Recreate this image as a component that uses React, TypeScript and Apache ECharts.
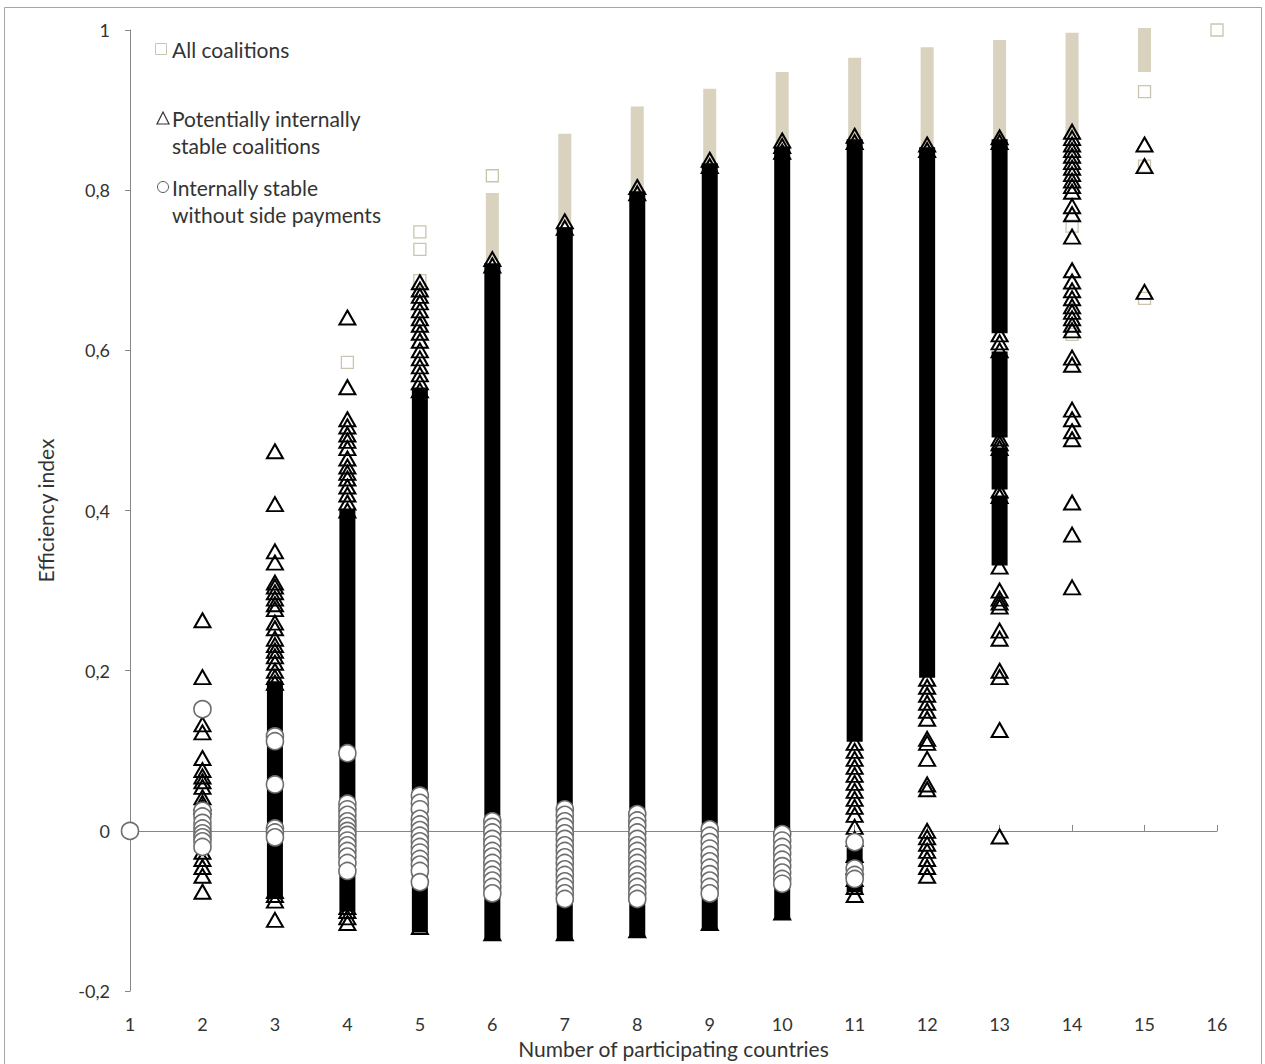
import React, { useEffect, useRef } from "react";
import * as echarts from "echarts";

// Number of participating countries (x categories)
const countries = [1, 2, 3, 4, 5, 6, 7, 8, 9, 10, 11, 12, 13, 14, 15, 16];
const yTicks = [-0.2, 0, 0.2, 0.4, 0.6, 0.8, 1];

// "All coalitions": isolated squares per country (index matches countries)
const squareValues: number[][] = [
  [],
  [],
  [],
  [0.585],
  [0.748, 0.726, 0.687],
  [0.818],
  [],
  [],
  [],
  [],
  [],
  [],
  [],
  [0.755, 0.62],
  [0.923, 0.83, 0.665],
  [1.0],
];
// "All coalitions": dense ranges of squares [country, low, high]
const squareBands: number[][] = [
  [6, 0.72, 0.789],
  [7, 0.765, 0.863],
  [8, 0.805, 0.897],
  [9, 0.84, 0.919],
  [10, 0.865, 0.94],
  [11, 0.87, 0.958],
  [12, 0.86, 0.971],
  [13, 0.868, 0.98],
  [14, 0.875, 0.989],
  [15, 0.955, 0.995],
];

// "Potentially internally stable coalitions": isolated triangles per country
const triangleValues: number[][] = [
  [],
  [0.263, 0.192, 0.133, 0.123, 0.091, 0.076, 0.068, 0.062, 0.055, 0.042, 0.035, 0.03, -0.026, -0.035, -0.045, -0.056, -0.076],
  [0.474, 0.408, 0.349, 0.335, 0.31, 0.305, 0.298, 0.29, 0.283, 0.277, 0.26, 0.253, 0.24, 0.232, 0.225, 0.218, 0.21, 0.2, 0.192, 0.185, -0.075, -0.08, -0.087, -0.111],
  [0.641, 0.554, 0.514, 0.505, 0.495, 0.487, 0.478, 0.465, 0.455, 0.447, 0.44, 0.43, 0.42, 0.41, 0.4, -0.095, -0.1, -0.108, -0.115],
  [0.685, 0.676, 0.668, 0.66, 0.65, 0.64, 0.632, 0.622, 0.612, 0.6, 0.59, 0.58, 0.57, 0.56, 0.55, -0.12],
  [0.714, 0.706, -0.128],
  [0.761, 0.753, -0.128],
  [0.804, 0.796, -0.124],
  [0.838, 0.83, -0.115],
  [0.862, 0.855, 0.848, -0.102],
  [0.868, 0.86, 0.11, 0.1, 0.09, 0.08, 0.07, 0.06, 0.05, 0.04, 0.03, 0.02, 0.005, -0.01, -0.03, -0.045, -0.06, -0.07, -0.08],
  [0.857, 0.85, 0.19, 0.18, 0.17, 0.16, 0.15, 0.14, 0.115, 0.11, 0.09, 0.058, 0.052, 0.0, -0.008, -0.016, -0.025, -0.035, -0.045, -0.056],
  [0.866, 0.86, 0.62, 0.61, 0.6, 0.49, 0.484, 0.478, 0.425, 0.418, 0.33, 0.3, 0.29, 0.285, 0.28, 0.25, 0.24, 0.2, 0.192, 0.126, -0.007],
  [0.873, 0.865, 0.857, 0.85, 0.843, 0.835, 0.828, 0.82, 0.812, 0.805, 0.798, 0.78, 0.77, 0.742, 0.7, 0.686, 0.675, 0.665, 0.655, 0.648, 0.64, 0.632, 0.625, 0.591, 0.582, 0.526, 0.514, 0.499, 0.489, 0.41, 0.37, 0.304],
  [0.857, 0.83, 0.673],
  [],
];
// "Potentially internally stable coalitions": dense ranges [country, low, high]
const triangleBands: number[][] = [
  [3, -0.075, 0.178],
  [4, -0.092, 0.392],
  [5, -0.118, 0.545],
  [6, -0.128, 0.7],
  [7, -0.128, 0.745],
  [8, -0.124, 0.79],
  [9, -0.115, 0.825],
  [10, -0.102, 0.845],
  [11, 0.12, 0.855],
  [11, -0.068, -0.025],
  [12, 0.2, 0.845],
  [13, 0.63, 0.855],
  [13, 0.5, 0.59],
  [13, 0.435, 0.47],
  [13, 0.34, 0.41],
];

// "Internally stable without side payments": circles per country
const circleValues: number[][] = [
  [0],
  [0.152, 0.025, 0.018, 0.01, 0.003, -0.003, -0.008, -0.013, -0.02],
  [0.118, 0.112, 0.058, 0.003, -0.002, -0.008],
  [0.097, 0.034, 0.027, 0.02, 0.012, 0.006, 0.0, -0.005, -0.012, -0.018, -0.025, -0.032, -0.04, -0.05],
  [0.044, 0.035, 0.027, 0.015, 0.008, 0.001, -0.006, -0.013, -0.02, -0.027, -0.035, -0.042, -0.05, -0.064],
  [0.012, 0.005, -0.002, -0.01, -0.017, -0.025, -0.032, -0.04, -0.048, -0.055, -0.062, -0.07, -0.078],
  [0.027, 0.02, 0.012, 0.005, -0.003, -0.01, -0.018, -0.025, -0.033, -0.04, -0.048, -0.055, -0.063, -0.07, -0.078, -0.085],
  [0.021, 0.013, 0.006, -0.002, -0.01, -0.018, -0.025, -0.033, -0.04, -0.048, -0.055, -0.063, -0.07, -0.078, -0.085],
  [0.002, -0.006, -0.014, -0.022, -0.03, -0.038, -0.046, -0.054, -0.062, -0.07, -0.078],
  [-0.004, -0.012, -0.02, -0.028, -0.036, -0.044, -0.052, -0.06, -0.066],
  [-0.014, -0.047, -0.055, -0.06],
  [],
  [],
  [],
  [],
  [],
];

const seriesNames = [
  "All coalitions",
  "Potentially internally stable coalitions",
  "Internally stable without side payments",
];

const toPoints = (vals: number[][]) => {
  const out: number[][] = [];
  vals.forEach((ys, i) => ys.forEach((y) => out.push([countries[i], y])));
  return out;
};

const FONT = "Lato";
const BEIGE = "#d8d2bf";
const BEIGE_EDGE = "#cbc4ae";
const TEXT = "#333";

export default function App() {
  const ref = useRef<HTMLDivElement>(null);
  useEffect(() => {
    document.body.style.margin = "0";
    if (!ref.current) return;
    const chart = echarts.init(ref.current, null, { renderer: "svg" });

    const bandRender = (w: number, h: number, fill: string) => (params: any, api: any) => {
      const x = api.value(0);
      const lo = api.value(1);
      const hi = api.value(2);
      const top = api.coord([x, hi]);
      const bot = api.coord([x, lo]);
      return {
        type: "rect",
        shape: { x: top[0] - w / 2, y: top[1] - h / 2, width: w, height: bot[1] - top[1] + h },
        style: { fill },
      };
    };

    const labelStyle = { fontFamily: FONT, fontSize: 21, fill: TEXT };

    chart.setOption({
      animation: false,
      backgroundColor: "#fff",
      textStyle: { fontFamily: FONT },
      grid: { left: 130, right: 48, top: 30, bottom: 72, containLabel: false },
      xAxis: [
        {
          type: "value",
          min: 1,
          max: 16,
          interval: 1,
          position: "bottom",
          axisLine: { show: false, onZero: false },
          axisTick: { show: false },
          splitLine: { show: false },
          axisLabel: { margin: 24, fontSize: 18, color: TEXT, fontFamily: FONT },
          name: "Number of participating countries",
          nameLocation: "middle",
          nameGap: 46,
          nameTextStyle: { fontSize: 21, color: TEXT, fontFamily: FONT },
        },
        {
          type: "value",
          min: 1,
          max: 16,
          interval: 1,
          position: "top",
          axisLine: { show: true, onZero: true, lineStyle: { color: "#868686", width: 1 } },
          axisTick: { show: true, length: 6, lineStyle: { color: "#868686" } },
          axisLabel: { show: false },
          splitLine: { show: false },
        },
      ],
      yAxis: {
        type: "value",
        min: -0.2,
        max: 1,
        interval: 0.2,
        axisLine: { show: true, onZero: false, lineStyle: { color: "#868686", width: 1 } },
        axisTick: { show: true, length: 5, lineStyle: { color: "#868686" } },
        splitLine: { show: false },
        axisLabel: {
          margin: 20,
          fontSize: 18,
          color: TEXT,
          fontFamily: FONT,
          formatter: (v: number) => {
            const r = Math.round(v * 10) / 10;
            return yTicks.includes(r) ? String(r).replace(".", ",") : "";
          },
        },
        name: "Efficiency index",
        nameLocation: "middle",
        nameGap: 74,
        nameTextStyle: { fontSize: 21, color: TEXT, fontFamily: FONT },
      },
      series: [
        {
          type: "custom",
          name: "squareBands",
          z: 1,
          silent: true,
          data: squareBands,
          encode: { x: 0, y: [1, 2] },
          renderItem: bandRender(13, 12, BEIGE),
        },
        {
          type: "scatter",
          name: seriesNames[0],
          z: 2,
          symbol: "rect",
          symbolSize: 12,
          itemStyle: { color: "#ffffff", borderColor: BEIGE_EDGE, borderWidth: 1.3, opacity: 1 },
          data: toPoints(squareValues),
        },
        {
          type: "custom",
          name: "triangleBands",
          z: 3,
          silent: true,
          data: triangleBands,
          encode: { x: 0, y: [1, 2] },
          renderItem: bandRender(16, 14, "#000"),
        },
        {
          type: "scatter",
          name: seriesNames[1],
          z: 4,
          symbol: "triangle",
          symbolSize: [16, 14],
          itemStyle: { color: "rgba(255,255,255,0)", borderColor: "#000", borderWidth: 2, opacity: 1 },
          data: toPoints(triangleValues),
        },
        {
          type: "scatter",
          name: seriesNames[2],
          z: 5,
          symbol: "circle",
          symbolSize: 17,
          itemStyle: { color: "#ffffff", borderColor: "#6e6e6e", borderWidth: 1.6, opacity: 1 },
          data: toPoints(circleValues),
        },
      ],
      graphic: [
        {
          type: "rect",
          silent: true,
          shape: { x: 4.5, y: 7.5, width: 1257, height: 1070 },
          style: { fill: "none", stroke: "#a6a6a6", lineWidth: 1 },
        },
        {
          type: "rect",
          shape: { x: 155.5, y: 43.5, width: 11, height: 11 },
          style: { fill: "#fff", stroke: BEIGE_EDGE, lineWidth: 1 },
        },
        { type: "text", x: 172, y: 49, style: { ...labelStyle, text: "All coalitions", verticalAlign: "middle" } },
        {
          type: "polygon",
          shape: { points: [[163, 112], [157, 124], [169, 124]] },
          style: { fill: "none", stroke: "#333", lineWidth: 1.2 },
        },
        { type: "text", x: 172, y: 118, style: { ...labelStyle, text: "Potentially internally", verticalAlign: "middle" } },
        { type: "text", x: 172, y: 145, style: { ...labelStyle, text: "stable coalitions", verticalAlign: "middle" } },
        {
          type: "circle",
          shape: { cx: 163, cy: 187, r: 5.5 },
          style: { fill: "#fff", stroke: "#555", lineWidth: 1 },
        },
        { type: "text", x: 172, y: 187, style: { ...labelStyle, text: "Internally stable", verticalAlign: "middle" } },
        { type: "text", x: 172, y: 214, style: { ...labelStyle, text: "without side payments", verticalAlign: "middle" } },
      ],
    });
    return () => chart.dispose();
  }, []);
  return <div ref={ref} style={{ width: 1265, height: 1064 }} />;
}
